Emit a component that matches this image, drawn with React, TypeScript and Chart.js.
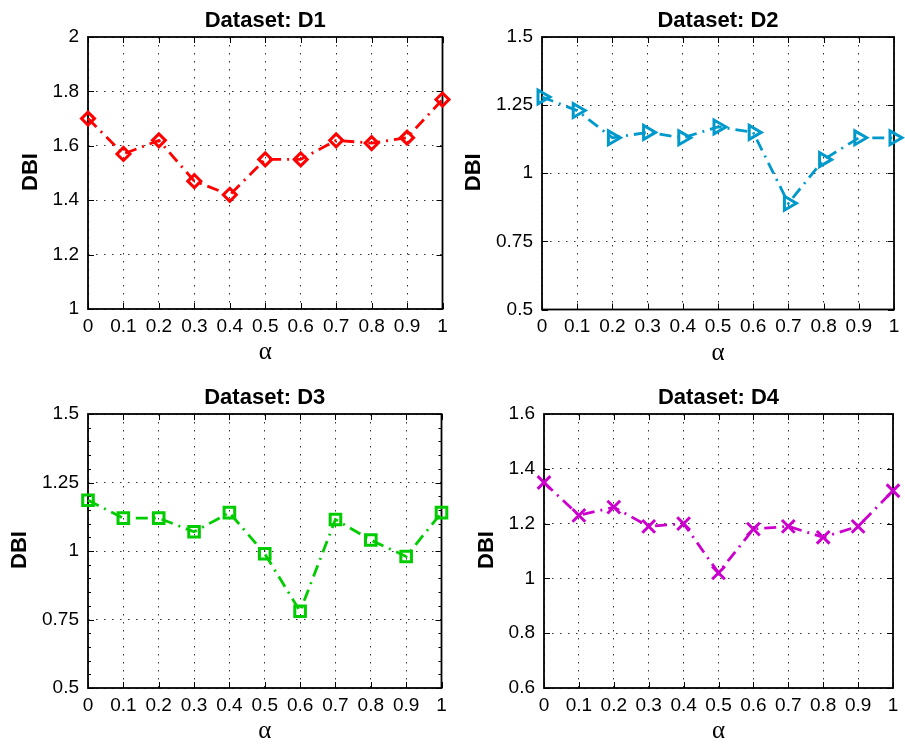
import React, { useEffect, useRef } from "react";
import { Chart, registerables } from "chart.js";

Chart.register(...registerables);

// ---- data ----
const alphaLabels = ["0", "0.1", "0.2", "0.3", "0.4", "0.5", "0.6", "0.7", "0.8", "0.9", "1"];
const d1Values = [1.70, 1.57, 1.62, 1.47, 1.42, 1.55, 1.55, 1.62, 1.61, 1.63, 1.77];
const d2Values = [1.28, 1.23, 1.13, 1.15, 1.13, 1.17, 1.15, 0.89, 1.05, 1.13, 1.13];
const d3Values = [1.185, 1.12, 1.12, 1.07, 1.14, 0.99, 0.78, 1.115, 1.04, 0.98, 1.14];
const d4Values = [1.35, 1.23, 1.26, 1.19, 1.20, 1.02, 1.18, 1.19, 1.15, 1.19, 1.32];
const panelTitles = ["Dataset: D1", "Dataset: D2", "Dataset: D3", "Dataset: D4"];
const yMins = [1, 0.5, 0.5, 0.6];
const yMaxs = [2, 1.5, 1.5, 1.6];
const ySteps = [0.2, 0.25, 0.25, 0.2];
const yMinorSteps = [0, 0, 0.05, 0];
const xAxisTitle = "α";
const yAxisTitle = "DBI";

// ---- styles / layout ----
const seriesValues = [d1Values, d2Values, d3Values, d4Values];
const colors = ["#ff0000", "#0099cc", "#00cc00", "#cc00cc"];
const pointStyles = ["rectRot", "triangle", "rect", "crossRot"];
const pointRotations = [0, 90, 0, 0];
const pointRadii = [6.5, 8, 7.5, 9];

const layouts = [
  { x: 0, y: 0, w: 452, h: 372, left: 88, right: 446, top: 37, bottom: 309 },
  { x: 452, y: 0, w: 453, h: 372, left: 90, right: 447, top: 37, bottom: 309.5 },
  { x: 0, y: 372, w: 452, h: 372, left: 88, right: 446, top: 42, bottom: 316 },
  { x: 452, y: 372, w: 453, h: 372, left: 92, right: 450, top: 42, bottom: 316 },
];

const SANS = '"Liberation Sans", Arial, Helvetica, sans-serif';
const TICK_FONT_SIZE = 19;

function fmt(v: number) {
  return String(Math.round(v * 100) / 100);
}

function Panel({ idx }: { idx: number }) {
  const ref = useRef<HTMLCanvasElement | null>(null);
  const L = layouts[idx];

  useEffect(() => {
    const canvas = ref.current;
    if (!canvas) return;

    const decorPlugin = {
      id: "decor" + idx,
      beforeDatasetsDraw(chart: any) {
        const { ctx, chartArea: a } = chart;
        const xs = chart.scales.x;
        const ys = chart.scales.y;
        ctx.save();
        ctx.strokeStyle = "#000";
        ctx.setLineDash([]);
        ctx.lineWidth = 1;
        ctx.beginPath();
        const tl = 6;
        for (let i = 0; i < xs.ticks.length; i++) {
          const px = Math.round(xs.getPixelForTick(i)) + 0.5;
          ctx.moveTo(px, a.bottom);
          ctx.lineTo(px, a.bottom - tl);
          ctx.moveTo(px, a.top);
          ctx.lineTo(px, a.top + tl);
        }
        for (let i = 0; i < ys.ticks.length; i++) {
          const py = Math.round(ys.getPixelForTick(i)) + 0.5;
          ctx.moveTo(a.left, py);
          ctx.lineTo(a.left + tl, py);
          ctx.moveTo(a.right, py);
          ctx.lineTo(a.right - tl, py);
        }
        ctx.stroke();
        const ms = yMinorSteps[idx];
        if (ms > 0) {
          ctx.beginPath();
          ctx.lineWidth = 1;
          const n = Math.round((yMaxs[idx] - yMins[idx]) / ms);
          for (let k = 1; k < n; k++) {
            const py = Math.round(ys.getPixelForValue(yMins[idx] + k * ms)) + 0.5;
            ctx.moveTo(a.left, py);
            ctx.lineTo(a.left + 3, py);
            ctx.moveTo(a.right, py);
            ctx.lineTo(a.right - 3, py);
          }
          ctx.stroke();
        }
        ctx.lineWidth = 1.8;
        ctx.strokeRect(a.left, a.top, a.right - a.left, a.bottom - a.top);
        ctx.restore();
      },
      afterDraw(chart: any) {
        const { ctx, chartArea: a } = chart;
        const ys = chart.scales.y;
        const cx = (a.left + a.right) / 2;
        const cy = (a.top + a.bottom) / 2;
        ctx.save();
        ctx.fillStyle = "#000";
        // title
        ctx.font = "bold 22px " + SANS;
        ctx.textAlign = "center";
        ctx.textBaseline = "alphabetic";
        ctx.fillText(panelTitles[idx], cx, a.top - 10.5);
        // x title
        ctx.font = '25px "Liberation Serif", "Times New Roman", serif';
        ctx.fillText(xAxisTitle, cx, a.bottom + 50);
        // y title
        ctx.font = TICK_FONT_SIZE + "px " + SANS;
        let maxW = 0;
        for (const t of ys.ticks) {
          const w = ctx.measureText(fmt(t.value)).width;
          if (w > maxW) maxW = w;
        }
        const titleCenterX = a.left - 9 - maxW - 24;
        ctx.font = "bold 22px " + SANS;
        ctx.translate(titleCenterX + 8, cy - 1);
        ctx.rotate(-Math.PI / 2);
        ctx.textAlign = "center";
        ctx.fillText(yAxisTitle, 0, 0);
        ctx.restore();
      },
    };

    const chart = new Chart(canvas, {
      type: "line",
      data: {
        labels: alphaLabels,
        datasets: [
          {
            data: seriesValues[idx],
            borderColor: colors[idx],
            borderWidth: 2.8,
            borderDash: [12, 6, 2, 6],
            backgroundColor: "transparent",
            fill: false,
            tension: 0,
            pointStyle: pointStyles[idx] as any,
            rotation: pointRotations[idx],
            pointRadius: pointRadii[idx],
            pointBorderWidth: 3,
            pointBorderColor: colors[idx],
            pointBackgroundColor: "rgba(0,0,0,0)",
            clip: false as any,
          } as any,
        ],
      },
      options: {
        responsive: false,
        animation: false,
        devicePixelRatio: 1,
        events: [],
        layout: {
          padding: { left: 0, right: L.w - L.right, top: L.top, bottom: 0 },
        },
        plugins: {
          legend: { display: false },
          title: { display: false },
          tooltip: { enabled: false },
        },
        scales: {
          x: {
            type: "category",
            offset: false,
            grid: {
              display: true,
              color: "rgba(0,0,0,0.8)",
              lineWidth: 1,
              drawTicks: false,
            },
            border: { display: false, dash: [1.5, 6.5] },
            ticks: {
              autoSkip: false,
              maxRotation: 0,
              minRotation: 0,
              padding: 6,
              color: "#000",
              font: { family: SANS, size: TICK_FONT_SIZE },
            },
            afterFit(scale: any) {
              scale.height = L.h - L.bottom;
              scale.paddingLeft = 0;
              scale.paddingRight = 0;
            },
          },
          y: {
            type: "linear",
            min: yMins[idx],
            max: yMaxs[idx],
            grid: {
              display: true,
              color: "rgba(0,0,0,0.8)",
              lineWidth: 1,
              drawTicks: false,
            },
            border: { display: false, dash: [1.5, 6.5] },
            ticks: {
              stepSize: ySteps[idx],
              padding: 9,
              color: "#000",
              font: { family: SANS, size: TICK_FONT_SIZE },
              callback: (v: any) => fmt(Number(v)),
            },
            afterFit(scale: any) {
              scale.width = L.left;
              scale.paddingTop = 0;
              scale.paddingBottom = 0;
            },
          },
        },
      } as any,
      plugins: [decorPlugin as any],
    });

    return () => {
      chart.destroy();
    };
  }, [idx]);

  return (
    <canvas
      ref={ref}
      width={L.w}
      height={L.h}
      style={{ position: "absolute", left: L.x, top: L.y, width: L.w, height: L.h }}
    />
  );
}

export default function App() {
  return (
    <div
      style={{
        position: "absolute",
        left: 0,
        top: 0,
        width: 905,
        height: 744,
        background: "#fff",
        overflow: "hidden",
      }}
    >
      {[0, 1, 2, 3].map((i) => (
        <Panel key={i} idx={i} />
      ))}
    </div>
  );
}
